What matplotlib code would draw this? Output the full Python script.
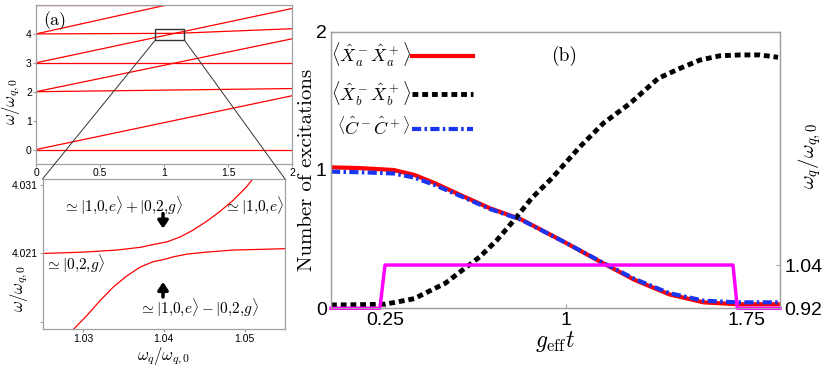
import matplotlib
matplotlib.use('Agg')
import matplotlib.pyplot as plt
from matplotlib.patches import Rectangle, ConnectionPatch

plt.rcParams['font.family'] = ['Liberation Sans', 'DejaVu Sans']
plt.rcParams['mathtext.fontset'] = 'cm'

# ---- panel (a): energy levels vs x (start/end points of each level)
level_x = [[0, 2], [0, 2], [0, 2], [0, 2], [0, 2], [0, 2], [0, 1.1, 2], [0, 1.02], [0, 1.0]]
level_y = [[0, 0], [0, 1.86], [2, 2.11], [2, 3.83], [3, 3.0], [3, 4.88],
           [4.0, 4.02, 4.18], [4.0, 5.0], [4.985, 4.985]]
zoom_box = (0.931, 3.78, 0.229, 0.40)   # x, y, width, height

# ---- inset: avoided crossing around wq/wq0 = 1.04
upper_x = [1.02505, 1.0301, 1.0342, 1.0371, 1.0391, 1.0404, 1.0420, 1.0436,
           1.0453, 1.0469, 1.0486, 1.0502, 1.0510]
upper_y = [4.0210, 4.0212, 4.0215, 4.0219, 4.0224, 4.0227, 4.0234, 4.0244,
           4.0257, 4.0271, 4.0288, 4.0307, 4.0319]
lower_x = [1.02875, 1.03048, 1.03212, 1.03377, 1.03542, 1.03706, 1.03870, 1.03994,
           1.04117, 1.04283, 1.04530, 1.04858, 1.05188, 1.05496]
lower_y = [4.0098, 4.0119, 4.0141, 4.0161, 4.0177, 4.0190, 4.0198, 4.0201,
           4.0205, 4.0209, 4.0212, 4.0215, 4.0216, 4.0217]

# ---- panel (b): number of excitations vs g_eff t
t_a = [0.026, 0.143, 0.286, 0.372, 0.458, 0.572, 0.686, 0.815, 1.0, 1.143,
       1.286, 1.429, 1.572, 1.715, 1.889]
n_a = [1.019, 1.014, 1.0, 0.964, 0.904, 0.812, 0.723, 0.643, 0.474, 0.337,
       0.205, 0.101, 0.043, 0.029, 0.029]
n_c = [0.988, 0.984, 0.975, 0.945, 0.890, 0.805, 0.718, 0.640, 0.474, 0.340,
       0.212, 0.110, 0.055, 0.043, 0.043]
t_b = [0.026, 0.143, 0.25, 0.286, 0.372, 0.429, 0.50, 0.572, 0.644, 0.715, 0.786,
       0.858, 0.942, 1.059, 1.156, 1.267, 1.384, 1.474, 1.557, 1.640, 1.723, 1.806, 1.881]
n_b = [0.024, 0.026, 0.03, 0.041, 0.07, 0.12, 0.181, 0.277, 0.373, 0.494, 0.638,
       0.795, 0.94, 1.168, 1.338, 1.482, 1.663, 1.735, 1.795, 1.826, 1.832, 1.832, 1.815]
t_q = [0.026, 0.229, 0.25, 1.694, 1.712, 1.889]
wq = [0.92, 0.92, 1.04, 1.04, 0.92, 0.92]

GRAY = '#a0a0a0'


def style_axes(ax, size):
    for s in ax.spines.values():
        s.set_color(GRAY)
        s.set_linewidth(0.9)
    ax.tick_params(colors=GRAY, labelcolor='black', labelsize=size)


fig = plt.figure(figsize=(8.3, 3.77), dpi=100)

# panel (a)
ax_a = fig.add_axes([36 / 830, 1 - 164 / 377, 256 / 830, 159 / 377])
for xs, ys in zip(level_x, level_y):
    ax_a.plot(xs, ys, color='red', lw=0.9)
ax_a.set_xlim(0, 2)
ax_a.set_ylim(-0.5, 5)
ax_a.set_xticks([0, 0.5, 1, 1.5, 2], ['0', '0.5', '1', '1.5', '2'])
ax_a.set_yticks([0, 1, 2, 3, 4])
style_axes(ax_a, 7.5)
ax_a.tick_params(length=2, pad=1)
ax_a.set_ylabel(r'$\omega/\omega_{q,0}$', fontsize=12)
ax_a.yaxis.set_label_coords(-0.055, 0.39)
ax_a.text(0.03, 0.96, '(a)', transform=ax_a.transAxes, family='cmr10',
          fontsize=13, va='top', ha='left')
bx, by, bw, bh = zoom_box
ax_a.add_patch(Rectangle((bx, by), bw, bh, fill=False, ec='#333333', lw=1.0, zorder=5))

# inset
ax_in = fig.add_axes([42.5 / 830, 1 - 329.3 / 377, 242.5 / 830, 150.3 / 377])
ax_in.plot(upper_x, upper_y, color='red', lw=0.9)
ax_in.plot(lower_x, lower_y, color='red', lw=0.9)
ax_in.set_xlim(1.025, 1.055)
ax_in.set_ylim(4.0099, 4.0319)
ax_in.set_xticks([1.03, 1.04, 1.05], ['1.03', '1.04', '1.05'])
ax_in.set_yticks([4.011, 4.021, 4.031], ['', '4.021', '4.031'])
style_axes(ax_in, 7.5)
ax_in.tick_params(length=2, pad=1.5)
ax_in.set_xlabel(r'$\omega_q/\omega_{q,0}$', fontsize=12, labelpad=1)
ax_in.set_ylabel(r'$\omega/\omega_{q,0}$', fontsize=12)
ax_in.yaxis.set_label_coords(-0.05, 0.27)
ax_in.text(0.332, 0.827, r'$\simeq|1{,}0{,}e\rangle+|0{,}2{,}g\rangle$',
           transform=ax_in.transAxes, ha='center', va='center', fontsize=11)
ax_in.text(0.995, 0.827, r'$\simeq|1{,}0{,}e\rangle$',
           transform=ax_in.transAxes, ha='right', va='center', fontsize=11)
ax_in.text(0.01, 0.44, r'$\simeq|0{,}2{,}g\rangle$',
           transform=ax_in.transAxes, ha='left', va='center', fontsize=11)
ax_in.text(0.643, 0.148, r'$\simeq|1{,}0{,}e\rangle-|0{,}2{,}g\rangle$',
           transform=ax_in.transAxes, ha='center', va='center', fontsize=11)
arrow = dict(arrowstyle='-|>,head_width=0.3,head_length=0.45', color='black', lw=2.5,
             shrinkA=0, shrinkB=0)
ax_in.annotate('', xy=(0.497, 0.67), xytext=(0.497, 0.77),
               xycoords='axes fraction', arrowprops=arrow)
ax_in.annotate('', xy=(0.497, 0.315), xytext=(0.497, 0.215),
               xycoords='axes fraction', arrowprops=arrow)

for xa, xi in [((bx, by), (0, 1)), ((bx + bw, by), (1, 1))]:
    con = ConnectionPatch(xyA=xa, coordsA=ax_a.transData, xyB=xi, coordsB=ax_in.transAxes,
                          color='#333333', lw=0.7)
    fig.add_artist(con)

# panel (b)
ax_b = fig.add_axes([331 / 830, 1 - 308.3 / 377, 449 / 830, 276.6 / 377])
ax_b.plot(t_a, n_a, color='red', lw=3,
          label=r'$\left\langle\hat{X}_a^-\hat{X}_a^+\right\rangle$')
ax_b.plot(t_b, n_b, color='black', lw=3.5, ls=(0, (1.2, 0.8)),
          label=r'$\left\langle\hat{X}_b^-\hat{X}_b^+\right\rangle$')
ax_b.plot(t_a, n_c, color='#1a35f0', lw=3, ls=(0, (2.2, 0.8, 0.6, 0.8)),
          label=r'$\left\langle\hat{C}^-\hat{C}^+\right\rangle$')
ax_b.set_xlim(0.026, 1.889)
ax_b.set_ylim(0, 2)
ax_b.set_xticks([0.25, 1, 1.75], ['0.25', '1', '1.75'])
ax_b.set_yticks([0, 1, 2])
style_axes(ax_b, 14)
ax_b.tick_params(direction='in', length=3, pad=3)
ax_b.set_xlabel(r'$g_{\rm eff}t$', fontsize=17, labelpad=0)
ax_b.set_ylabel('Number of excitations', family='cmr10', fontsize=15)
ax_b.yaxis.set_label_coords(-0.033, 0.5)
ax_b.text(0.49, 0.95, '(b)', transform=ax_b.transAxes, family='cmr10', fontsize=14,
          va='top', ha='left')
ax_b.legend(loc='upper left', bbox_to_anchor=(-0.005, 0.972), markerfirst=False,
            frameon=False, fontsize=13, handlelength=3.4, labelspacing=0.55,
            borderaxespad=0.0, borderpad=0.1, handletextpad=0.05)

ax_r = ax_b.twinx()
ax_r.plot(t_q, wq, color='#ff00ff', lw=2.5, clip_on=False)
ax_r.set_ylim(0.92, 1.687)
ax_r.set_yticks([0.92, 1.04], ['0.92', '1.04'])
style_axes(ax_r, 14)
ax_r.tick_params(direction='in', length=3, pad=3)
ax_r.set_ylabel(r'$\omega_q/\omega_{q,0}$', fontsize=15)
ax_r.yaxis.set_label_coords(1.035, 0.55)

fig.savefig('out.png', dpi=100)
